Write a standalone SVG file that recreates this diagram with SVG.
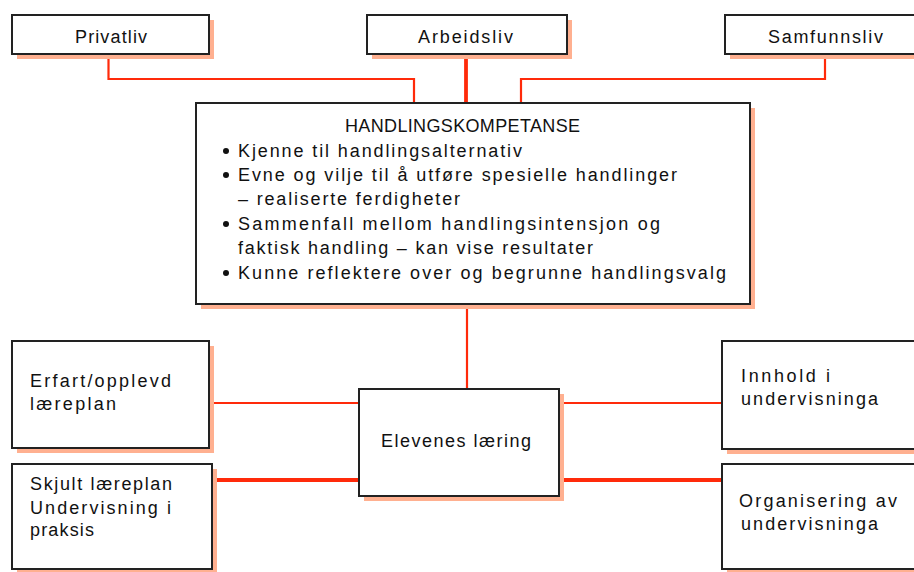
<svg xmlns="http://www.w3.org/2000/svg" width="914" height="572" viewBox="0 0 914 572">
<style>
.box{fill:#fff;stroke:#222;stroke-width:2}
.sh{fill:#ffb090}
.t{font-family:"Liberation Sans",Arial,sans-serif;font-size:18px;fill:#111}
.c{fill:none;stroke:#ff2a0a;stroke-width:2.2}
.ck{fill:none;stroke:#ff2a0a;stroke-width:3.8}
.b{fill:#111}
</style>
<rect width="914" height="572" fill="#fff"/>
<g id="connectors">
<path class="c" d="M108.5 54 V79 H414 V103"/>
<path class="ck" d="M466 54 V103"/>
<path class="c" d="M825 54 V79 H521 V103"/>
<path class="c" d="M467 304 V389"/>
<path class="c" d="M209 403 H359"/>
<path class="ck" d="M212 480 H359"/>
<path class="c" d="M559 403 H722"/>
<path class="ck" d="M559 480 H722"/>
</g>
<g id="privatliv">
<rect class="sh" x="17" y="20" width="197" height="39"/>
<rect class="box" x="12" y="15" width="197" height="39"/>
<text class="t" x="75" y="43" textLength="72">Privatliv</text>
</g>
<g id="arbeidsliv">
<rect class="sh" x="372" y="20" width="200" height="39"/>
<rect class="box" x="367" y="15" width="200" height="39"/>
<text class="t" x="418" y="43" textLength="95">Arbeidsliv</text>
</g>
<g id="samfunnsliv">
<rect class="sh" x="730" y="20" width="200" height="39"/>
<rect class="box" x="725" y="15" width="200" height="39"/>
<text class="t" x="768" y="43" textLength="115">Samfunnsliv</text>
</g>
<g id="handlingskompetanse">
<rect class="sh" x="201" y="108" width="554" height="201"/>
<rect class="box" x="196" y="103" width="554" height="201"/>
<text class="t" x="345" y="132" textLength="235">HANDLINGSKOMPETANSE</text>
<circle class="b" cx="226" cy="151" r="3"/>
<text class="t" x="238" y="157" textLength="284">Kjenne til handlingsalternativ</text>
<circle class="b" cx="226" cy="175" r="3"/>
<text class="t" x="238" y="181" textLength="439">Evne og vilje til å utføre spesielle handlinger</text>
<text class="t" x="238" y="205" textLength="222">– realiserte ferdigheter</text>
<circle class="b" cx="226" cy="224" r="3"/>
<text class="t" x="238" y="230" textLength="422">Sammenfall mellom handlingsintensjon og</text>
<text class="t" x="238" y="254" textLength="355">faktisk handling – kan vise resultater</text>
<circle class="b" cx="226" cy="273" r="3"/>
<text class="t" x="238" y="279" textLength="488">Kunne reflektere over og begrunne handlingsvalg</text>
</g>
<g id="elevenes-laering">
<rect class="sh" x="364" y="394" width="200" height="107"/>
<rect class="box" x="359" y="389" width="200" height="107"/>
<text class="t" x="381" y="447" textLength="150">Elevenes læring</text>
</g>
<g id="erfart">
<rect class="sh" x="17" y="346" width="197" height="107"/>
<rect class="box" x="12" y="341" width="197" height="107"/>
<text class="t" x="30" y="387" textLength="141">Erfart/opplevd</text>
<text class="t" x="30" y="410" textLength="86">læreplan</text>
</g>
<g id="skjult">
<rect class="sh" x="17" y="469" width="200" height="106"/>
<rect class="box" x="12" y="464" width="200" height="105"/>
<text class="t" x="30" y="490" textLength="142">Skjult læreplan</text>
<text class="t" x="30" y="514" textLength="141">Undervisning i</text>
<text class="t" x="30" y="536" textLength="64">praksis</text>
</g>
<g id="innhold">
<rect class="sh" x="727" y="346" width="200" height="108"/>
<rect class="box" x="722" y="341" width="200" height="108"/>
<text class="t" x="741" y="382" textLength="89">Innhold i</text>
<text class="t" x="741" y="405" textLength="137">undervisninga</text>
</g>
<g id="organisering">
<rect class="sh" x="727" y="469" width="200" height="106"/>
<rect class="box" x="722" y="464" width="200" height="105"/>
<text class="t" x="739" y="507" textLength="158">Organisering av</text>
<text class="t" x="741" y="530" textLength="137">undervisninga</text>
</g>
</svg>
